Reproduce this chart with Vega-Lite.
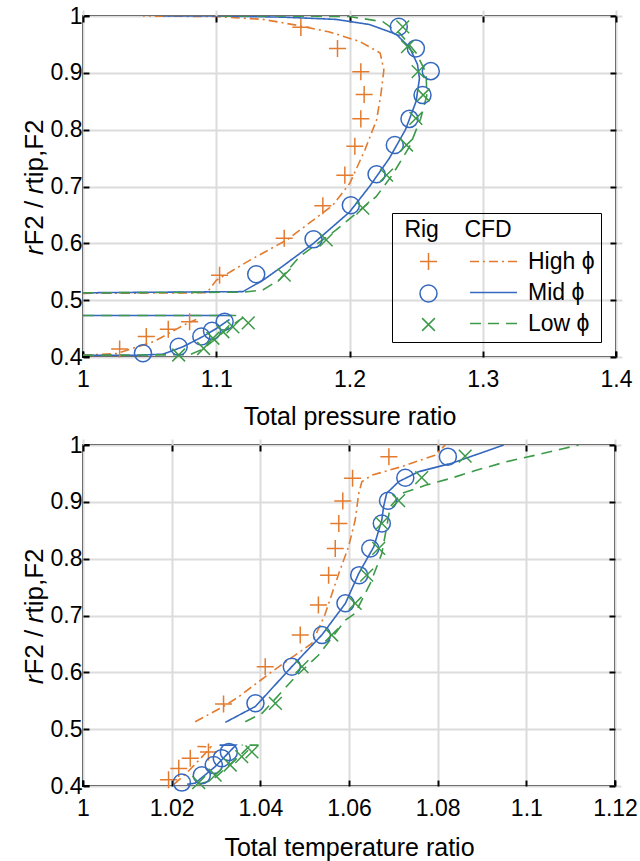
{
  "$schema": "https://vega.github.io/schema/vega-lite/v6.json",
  "padding": {"left": 20, "top": 4, "right": 8, "bottom": 5},
  "background": "white",
  "bounds": "flush",
  "spacing": 88,
  "config": {
    "font": "Liberation Sans",
    "view": {"stroke": "black", "strokeWidth": 2},
    "axis": {
      "grid": true, "gridColor": "#dcdcdc", "gridWidth": 2,
      "domain": false, "labelFlush": false,
      "tickColor": "black", "tickWidth": 2, "tickSize": 6, "offset": -6,
      "labelFont": "Liberation Sans", "labelFontSize": 23, "labelColor": "black",
      "titleFont": "Liberation Sans", "titleFontSize": 25, "titleFontWeight": "normal", "titleColor": "black"
    },
    "legend": {
      "labelFont": "Liberation Sans", "labelFontSize": 23, "labelColor": "black",
      "titleFont": "Liberation Sans", "titleFontSize": 23, "titleFontWeight": "normal", "titleColor": "black",
      "symbolStrokeWidth": 1.5
    }
  },
  "datasets": {
    "pts": [
      {"p": "P", "rig": "High", "x": 1.0275, "y": 0.414},
      {"p": "P", "rig": "High", "x": 1.0475, "y": 0.436},
      {"p": "P", "rig": "High", "x": 1.064, "y": 0.449},
      {"p": "P", "rig": "High", "x": 1.080, "y": 0.462},
      {"p": "P", "rig": "High", "x": 1.1025, "y": 0.544},
      {"p": "P", "rig": "High", "x": 1.151, "y": 0.609},
      {"p": "P", "rig": "High", "x": 1.180, "y": 0.666},
      {"p": "P", "rig": "High", "x": 1.1965, "y": 0.720},
      {"p": "P", "rig": "High", "x": 1.204, "y": 0.771},
      {"p": "P", "rig": "High", "x": 1.2085, "y": 0.819},
      {"p": "P", "rig": "High", "x": 1.211, "y": 0.862},
      {"p": "P", "rig": "High", "x": 1.2085, "y": 0.902},
      {"p": "P", "rig": "High", "x": 1.191, "y": 0.943},
      {"p": "P", "rig": "High", "x": 1.1635, "y": 0.980},
      {"p": "P", "rig": "Mid", "x": 1.045, "y": 0.4065},
      {"p": "P", "rig": "Mid", "x": 1.0718, "y": 0.418},
      {"p": "P", "rig": "Mid", "x": 1.0888, "y": 0.436},
      {"p": "P", "rig": "Mid", "x": 1.0968, "y": 0.446},
      {"p": "P", "rig": "Mid", "x": 1.1063, "y": 0.462},
      {"p": "P", "rig": "Mid", "x": 1.130, "y": 0.5455},
      {"p": "P", "rig": "Mid", "x": 1.173, "y": 0.607},
      {"p": "P", "rig": "Mid", "x": 1.201, "y": 0.667},
      {"p": "P", "rig": "Mid", "x": 1.2203, "y": 0.7215},
      {"p": "P", "rig": "Mid", "x": 1.234, "y": 0.773},
      {"p": "P", "rig": "Mid", "x": 1.245, "y": 0.819},
      {"p": "P", "rig": "Mid", "x": 1.2548, "y": 0.861},
      {"p": "P", "rig": "Mid", "x": 1.261, "y": 0.903},
      {"p": "P", "rig": "Mid", "x": 1.2498, "y": 0.943},
      {"p": "P", "rig": "Mid", "x": 1.237, "y": 0.981},
      {"p": "P", "rig": "Low", "x": 1.0718, "y": 0.4035},
      {"p": "P", "rig": "Low", "x": 1.0905, "y": 0.415},
      {"p": "P", "rig": "Low", "x": 1.0975, "y": 0.433},
      {"p": "P", "rig": "Low", "x": 1.105, "y": 0.4445},
      {"p": "P", "rig": "Low", "x": 1.1125, "y": 0.453},
      {"p": "P", "rig": "Low", "x": 1.124, "y": 0.460},
      {"p": "P", "rig": "Low", "x": 1.151, "y": 0.544},
      {"p": "P", "rig": "Low", "x": 1.1825, "y": 0.606},
      {"p": "P", "rig": "Low", "x": 1.21, "y": 0.662},
      {"p": "P", "rig": "Low", "x": 1.2278, "y": 0.720},
      {"p": "P", "rig": "Low", "x": 1.2428, "y": 0.773},
      {"p": "P", "rig": "Low", "x": 1.2498, "y": 0.82},
      {"p": "P", "rig": "Low", "x": 1.2553, "y": 0.861},
      {"p": "P", "rig": "Low", "x": 1.2515, "y": 0.902},
      {"p": "P", "rig": "Low", "x": 1.2435, "y": 0.946},
      {"p": "P", "rig": "Low", "x": 1.240, "y": 0.981},
      {"p": "T", "rig": "High", "x": 1.0193, "y": 0.411},
      {"p": "T", "rig": "High", "x": 1.0216, "y": 0.431},
      {"p": "T", "rig": "High", "x": 1.0242, "y": 0.449},
      {"p": "T", "rig": "High", "x": 1.0283, "y": 0.460},
      {"p": "T", "rig": "High", "x": 1.0317, "y": 0.5443},
      {"p": "T", "rig": "High", "x": 1.0411, "y": 0.610},
      {"p": "T", "rig": "High", "x": 1.049, "y": 0.6657},
      {"p": "T", "rig": "High", "x": 1.0531, "y": 0.7185},
      {"p": "T", "rig": "High", "x": 1.0554, "y": 0.771},
      {"p": "T", "rig": "High", "x": 1.0569, "y": 0.818},
      {"p": "T", "rig": "High", "x": 1.0577, "y": 0.862},
      {"p": "T", "rig": "High", "x": 1.0586, "y": 0.9015},
      {"p": "T", "rig": "High", "x": 1.0608, "y": 0.9414},
      {"p": "T", "rig": "High", "x": 1.069, "y": 0.9795},
      {"p": "T", "rig": "Mid", "x": 1.0223, "y": 0.406},
      {"p": "T", "rig": "Mid", "x": 1.0268, "y": 0.419},
      {"p": "T", "rig": "Mid", "x": 1.0295, "y": 0.437},
      {"p": "T", "rig": "Mid", "x": 1.0313, "y": 0.449},
      {"p": "T", "rig": "Mid", "x": 1.0329, "y": 0.460},
      {"p": "T", "rig": "Mid", "x": 1.0389, "y": 0.5455},
      {"p": "T", "rig": "Mid", "x": 1.0471, "y": 0.61},
      {"p": "T", "rig": "Mid", "x": 1.0539, "y": 0.6657},
      {"p": "T", "rig": "Mid", "x": 1.0592, "y": 0.7215},
      {"p": "T", "rig": "Mid", "x": 1.0623, "y": 0.771},
      {"p": "T", "rig": "Mid", "x": 1.0648, "y": 0.818},
      {"p": "T", "rig": "Mid", "x": 1.0674, "y": 0.862},
      {"p": "T", "rig": "Mid", "x": 1.0688, "y": 0.902},
      {"p": "T", "rig": "Mid", "x": 1.0727, "y": 0.9425},
      {"p": "T", "rig": "Mid", "x": 1.0823, "y": 0.9795},
      {"p": "T", "rig": "Low", "x": 1.0261, "y": 0.406},
      {"p": "T", "rig": "Low", "x": 1.0298, "y": 0.419},
      {"p": "T", "rig": "Low", "x": 1.0332, "y": 0.437},
      {"p": "T", "rig": "Low", "x": 1.0358, "y": 0.4516},
      {"p": "T", "rig": "Low", "x": 1.0381, "y": 0.460},
      {"p": "T", "rig": "Low", "x": 1.0434, "y": 0.5455},
      {"p": "T", "rig": "Low", "x": 1.0494, "y": 0.61},
      {"p": "T", "rig": "Low", "x": 1.0561, "y": 0.6657},
      {"p": "T", "rig": "Low", "x": 1.0614, "y": 0.7215},
      {"p": "T", "rig": "Low", "x": 1.064, "y": 0.771},
      {"p": "T", "rig": "Low", "x": 1.0667, "y": 0.818},
      {"p": "T", "rig": "Low", "x": 1.0674, "y": 0.862},
      {"p": "T", "rig": "Low", "x": 1.0712, "y": 0.902},
      {"p": "T", "rig": "Low", "x": 1.0764, "y": 0.9425},
      {"p": "T", "rig": "Low", "x": 1.0862, "y": 0.9805}
    ],
    "lns": [
      {"p": "P", "cfd": "High ϕ", "s": "a", "o": 1, "x": 1.0, "y": 0.403},
      {"p": "P", "cfd": "High ϕ", "s": "a", "o": 2, "x": 1.025, "y": 0.406},
      {"p": "P", "cfd": "High ϕ", "s": "a", "o": 3, "x": 1.053, "y": 0.427},
      {"p": "P", "cfd": "High ϕ", "s": "a", "o": 4, "x": 1.078, "y": 0.459},
      {"p": "P", "cfd": "High ϕ", "s": "a", "o": 5, "x": 1.085, "y": 0.466},
      {"p": "P", "cfd": "High ϕ", "s": "b", "o": 1, "x": 1.0, "y": 0.512},
      {"p": "P", "cfd": "High ϕ", "s": "b", "o": 2, "x": 1.093, "y": 0.513},
      {"p": "P", "cfd": "High ϕ", "s": "b", "o": 3, "x": 1.1, "y": 0.535},
      {"p": "P", "cfd": "High ϕ", "s": "b", "o": 4, "x": 1.125, "y": 0.57},
      {"p": "P", "cfd": "High ϕ", "s": "b", "o": 5, "x": 1.153, "y": 0.606},
      {"p": "P", "cfd": "High ϕ", "s": "b", "o": 6, "x": 1.1875, "y": 0.667},
      {"p": "P", "cfd": "High ϕ", "s": "b", "o": 7, "x": 1.2003, "y": 0.706},
      {"p": "P", "cfd": "High ϕ", "s": "b", "o": 8, "x": 1.2115, "y": 0.764},
      {"p": "P", "cfd": "High ϕ", "s": "b", "o": 9, "x": 1.2203, "y": 0.817},
      {"p": "P", "cfd": "High ϕ", "s": "b", "o": 10, "x": 1.2235, "y": 0.861},
      {"p": "P", "cfd": "High ϕ", "s": "b", "o": 11, "x": 1.2258, "y": 0.905},
      {"p": "P", "cfd": "High ϕ", "s": "b", "o": 12, "x": 1.223, "y": 0.935},
      {"p": "P", "cfd": "High ϕ", "s": "b", "o": 13, "x": 1.2078, "y": 0.955},
      {"p": "P", "cfd": "High ϕ", "s": "b", "o": 14, "x": 1.185, "y": 0.972},
      {"p": "P", "cfd": "High ϕ", "s": "b", "o": 15, "x": 1.16, "y": 0.984},
      {"p": "P", "cfd": "High ϕ", "s": "b", "o": 16, "x": 1.135, "y": 0.994},
      {"p": "P", "cfd": "High ϕ", "s": "b", "o": 17, "x": 1.1, "y": 0.999},
      {"p": "P", "cfd": "High ϕ", "s": "b", "o": 18, "x": 1.045, "y": 1.0},
      {"p": "P", "cfd": "Mid ϕ", "s": "a", "o": 1, "x": 1.0, "y": 0.403},
      {"p": "P", "cfd": "Mid ϕ", "s": "a", "o": 2, "x": 1.04, "y": 0.403},
      {"p": "P", "cfd": "Mid ϕ", "s": "a", "o": 3, "x": 1.06, "y": 0.405},
      {"p": "P", "cfd": "Mid ϕ", "s": "a", "o": 4, "x": 1.075, "y": 0.418},
      {"p": "P", "cfd": "Mid ϕ", "s": "a", "o": 5, "x": 1.09, "y": 0.436},
      {"p": "P", "cfd": "Mid ϕ", "s": "a", "o": 6, "x": 1.1, "y": 0.45},
      {"p": "P", "cfd": "Mid ϕ", "s": "a", "o": 7, "x": 1.11, "y": 0.466},
      {"p": "P", "cfd": "Mid ϕ", "s": "b", "o": 1, "x": 1.0, "y": 0.473},
      {"p": "P", "cfd": "Mid ϕ", "s": "b", "o": 2, "x": 1.112, "y": 0.473},
      {"p": "P", "cfd": "Mid ϕ", "s": "c", "o": 1, "x": 1.0, "y": 0.513},
      {"p": "P", "cfd": "Mid ϕ", "s": "c", "o": 2, "x": 1.12, "y": 0.515},
      {"p": "P", "cfd": "Mid ϕ", "s": "c", "o": 3, "x": 1.135, "y": 0.535},
      {"p": "P", "cfd": "Mid ϕ", "s": "c", "o": 4, "x": 1.15, "y": 0.56},
      {"p": "P", "cfd": "Mid ϕ", "s": "c", "o": 5, "x": 1.173, "y": 0.6},
      {"p": "P", "cfd": "Mid ϕ", "s": "c", "o": 6, "x": 1.2, "y": 0.655},
      {"p": "P", "cfd": "Mid ϕ", "s": "c", "o": 7, "x": 1.215, "y": 0.7},
      {"p": "P", "cfd": "Mid ϕ", "s": "c", "o": 8, "x": 1.23, "y": 0.75},
      {"p": "P", "cfd": "Mid ϕ", "s": "c", "o": 9, "x": 1.242, "y": 0.8},
      {"p": "P", "cfd": "Mid ϕ", "s": "c", "o": 10, "x": 1.25, "y": 0.85},
      {"p": "P", "cfd": "Mid ϕ", "s": "c", "o": 11, "x": 1.2525, "y": 0.89},
      {"p": "P", "cfd": "Mid ϕ", "s": "c", "o": 12, "x": 1.251, "y": 0.915},
      {"p": "P", "cfd": "Mid ϕ", "s": "c", "o": 13, "x": 1.245, "y": 0.945},
      {"p": "P", "cfd": "Mid ϕ", "s": "c", "o": 14, "x": 1.235, "y": 0.968},
      {"p": "P", "cfd": "Mid ϕ", "s": "c", "o": 15, "x": 1.215, "y": 0.985},
      {"p": "P", "cfd": "Mid ϕ", "s": "c", "o": 16, "x": 1.19, "y": 0.994},
      {"p": "P", "cfd": "Mid ϕ", "s": "c", "o": 17, "x": 1.15, "y": 0.998},
      {"p": "P", "cfd": "Mid ϕ", "s": "c", "o": 18, "x": 1.1, "y": 1.0},
      {"p": "P", "cfd": "Mid ϕ", "s": "c", "o": 19, "x": 1.06, "y": 1.0},
      {"p": "P", "cfd": "Low ϕ", "s": "a", "o": 1, "x": 1.0, "y": 0.403},
      {"p": "P", "cfd": "Low ϕ", "s": "a", "o": 2, "x": 1.08, "y": 0.404},
      {"p": "P", "cfd": "Low ϕ", "s": "a", "o": 3, "x": 1.09, "y": 0.414},
      {"p": "P", "cfd": "Low ϕ", "s": "a", "o": 4, "x": 1.1, "y": 0.433},
      {"p": "P", "cfd": "Low ϕ", "s": "a", "o": 5, "x": 1.11, "y": 0.453},
      {"p": "P", "cfd": "Low ϕ", "s": "a", "o": 6, "x": 1.12, "y": 0.469},
      {"p": "P", "cfd": "Low ϕ", "s": "b", "o": 1, "x": 1.0, "y": 0.473},
      {"p": "P", "cfd": "Low ϕ", "s": "b", "o": 2, "x": 1.115, "y": 0.473},
      {"p": "P", "cfd": "Low ϕ", "s": "c", "o": 1, "x": 1.0, "y": 0.513},
      {"p": "P", "cfd": "Low ϕ", "s": "c", "o": 2, "x": 1.12, "y": 0.514},
      {"p": "P", "cfd": "Low ϕ", "s": "c", "o": 3, "x": 1.135, "y": 0.518},
      {"p": "P", "cfd": "Low ϕ", "s": "c", "o": 4, "x": 1.1475, "y": 0.536},
      {"p": "P", "cfd": "Low ϕ", "s": "c", "o": 5, "x": 1.1625, "y": 0.5765},
      {"p": "P", "cfd": "Low ϕ", "s": "c", "o": 6, "x": 1.19, "y": 0.6235},
      {"p": "P", "cfd": "Low ϕ", "s": "c", "o": 7, "x": 1.22, "y": 0.682},
      {"p": "P", "cfd": "Low ϕ", "s": "c", "o": 8, "x": 1.232, "y": 0.72},
      {"p": "P", "cfd": "Low ϕ", "s": "c", "o": 9, "x": 1.245, "y": 0.77},
      {"p": "P", "cfd": "Low ϕ", "s": "c", "o": 10, "x": 1.2535, "y": 0.82},
      {"p": "P", "cfd": "Low ϕ", "s": "c", "o": 11, "x": 1.258, "y": 0.86},
      {"p": "P", "cfd": "Low ϕ", "s": "c", "o": 12, "x": 1.2575, "y": 0.9},
      {"p": "P", "cfd": "Low ϕ", "s": "c", "o": 13, "x": 1.25, "y": 0.935},
      {"p": "P", "cfd": "Low ϕ", "s": "c", "o": 14, "x": 1.238, "y": 0.969},
      {"p": "P", "cfd": "Low ϕ", "s": "c", "o": 15, "x": 1.225, "y": 0.99},
      {"p": "P", "cfd": "Low ϕ", "s": "c", "o": 16, "x": 1.2, "y": 0.999},
      {"p": "P", "cfd": "Low ϕ", "s": "c", "o": 17, "x": 1.15, "y": 1.0},
      {"p": "P", "cfd": "Low ϕ", "s": "c", "o": 18, "x": 1.1, "y": 1.0},
      {"p": "T", "cfd": "High ϕ", "s": "a", "o": 1, "x": 1.0205, "y": 0.403},
      {"p": "T", "cfd": "High ϕ", "s": "a", "o": 2, "x": 1.023, "y": 0.42},
      {"p": "T", "cfd": "High ϕ", "s": "a", "o": 3, "x": 1.0255, "y": 0.44},
      {"p": "T", "cfd": "High ϕ", "s": "a", "o": 4, "x": 1.0285, "y": 0.465},
      {"p": "T", "cfd": "High ϕ", "s": "a", "o": 5, "x": 1.0288, "y": 0.469},
      {"p": "T", "cfd": "High ϕ", "s": "a", "o": 6, "x": 1.0253, "y": 0.4695},
      {"p": "T", "cfd": "High ϕ", "s": "b", "o": 1, "x": 1.0253, "y": 0.513},
      {"p": "T", "cfd": "High ϕ", "s": "b", "o": 2, "x": 1.0317, "y": 0.54},
      {"p": "T", "cfd": "High ϕ", "s": "b", "o": 3, "x": 1.0351, "y": 0.557},
      {"p": "T", "cfd": "High ϕ", "s": "b", "o": 4, "x": 1.0426, "y": 0.601},
      {"p": "T", "cfd": "High ϕ", "s": "b", "o": 5, "x": 1.0516, "y": 0.651},
      {"p": "T", "cfd": "High ϕ", "s": "b", "o": 6, "x": 1.0545, "y": 0.70},
      {"p": "T", "cfd": "High ϕ", "s": "b", "o": 7, "x": 1.0577, "y": 0.774},
      {"p": "T", "cfd": "High ϕ", "s": "b", "o": 8, "x": 1.0599, "y": 0.821},
      {"p": "T", "cfd": "High ϕ", "s": "b", "o": 9, "x": 1.0614, "y": 0.868},
      {"p": "T", "cfd": "High ϕ", "s": "b", "o": 10, "x": 1.0622, "y": 0.915},
      {"p": "T", "cfd": "High ϕ", "s": "b", "o": 11, "x": 1.0629, "y": 0.9355},
      {"p": "T", "cfd": "High ϕ", "s": "b", "o": 12, "x": 1.0652, "y": 0.947},
      {"p": "T", "cfd": "High ϕ", "s": "b", "o": 13, "x": 1.0719, "y": 0.962},
      {"p": "T", "cfd": "High ϕ", "s": "b", "o": 14, "x": 1.0794, "y": 0.982},
      {"p": "T", "cfd": "High ϕ", "s": "b", "o": 15, "x": 1.0817, "y": 1.0},
      {"p": "T", "cfd": "Mid ϕ", "s": "a", "o": 1, "x": 1.0235, "y": 0.403},
      {"p": "T", "cfd": "Mid ϕ", "s": "a", "o": 2, "x": 1.0253, "y": 0.405},
      {"p": "T", "cfd": "Mid ϕ", "s": "a", "o": 3, "x": 1.0298, "y": 0.434},
      {"p": "T", "cfd": "Mid ϕ", "s": "a", "o": 4, "x": 1.034, "y": 0.468},
      {"p": "T", "cfd": "Mid ϕ", "s": "a", "o": 5, "x": 1.0345, "y": 0.472},
      {"p": "T", "cfd": "Mid ϕ", "s": "a", "o": 6, "x": 1.0308, "y": 0.472},
      {"p": "T", "cfd": "Mid ϕ", "s": "b", "o": 1, "x": 1.0321, "y": 0.512},
      {"p": "T", "cfd": "Mid ϕ", "s": "b", "o": 2, "x": 1.0389, "y": 0.54},
      {"p": "T", "cfd": "Mid ϕ", "s": "b", "o": 3, "x": 1.0471, "y": 0.61},
      {"p": "T", "cfd": "Mid ϕ", "s": "b", "o": 4, "x": 1.0539, "y": 0.666},
      {"p": "T", "cfd": "Mid ϕ", "s": "b", "o": 5, "x": 1.0592, "y": 0.7215},
      {"p": "T", "cfd": "Mid ϕ", "s": "b", "o": 6, "x": 1.0622, "y": 0.774},
      {"p": "T", "cfd": "Mid ϕ", "s": "b", "o": 7, "x": 1.0656, "y": 0.821},
      {"p": "T", "cfd": "Mid ϕ", "s": "b", "o": 8, "x": 1.0674, "y": 0.868},
      {"p": "T", "cfd": "Mid ϕ", "s": "b", "o": 9, "x": 1.0678, "y": 0.8915},
      {"p": "T", "cfd": "Mid ϕ", "s": "b", "o": 10, "x": 1.0685, "y": 0.915},
      {"p": "T", "cfd": "Mid ϕ", "s": "b", "o": 11, "x": 1.0712, "y": 0.9355},
      {"p": "T", "cfd": "Mid ϕ", "s": "b", "o": 12, "x": 1.0757, "y": 0.953},
      {"p": "T", "cfd": "Mid ϕ", "s": "b", "o": 13, "x": 1.0832, "y": 0.968},
      {"p": "T", "cfd": "Mid ϕ", "s": "b", "o": 14, "x": 1.0949, "y": 1.0},
      {"p": "T", "cfd": "Low ϕ", "s": "a", "o": 1, "x": 1.026, "y": 0.403},
      {"p": "T", "cfd": "Low ϕ", "s": "a", "o": 2, "x": 1.0291, "y": 0.41},
      {"p": "T", "cfd": "Low ϕ", "s": "a", "o": 3, "x": 1.0351, "y": 0.4516},
      {"p": "T", "cfd": "Low ϕ", "s": "a", "o": 4, "x": 1.0374, "y": 0.469},
      {"p": "T", "cfd": "Low ϕ", "s": "a", "o": 5, "x": 1.0396, "y": 0.472},
      {"p": "T", "cfd": "Low ϕ", "s": "a", "o": 6, "x": 1.0358, "y": 0.472},
      {"p": "T", "cfd": "Low ϕ", "s": "b", "o": 1, "x": 1.0366, "y": 0.513},
      {"p": "T", "cfd": "Low ϕ", "s": "b", "o": 2, "x": 1.0404, "y": 0.528},
      {"p": "T", "cfd": "Low ϕ", "s": "b", "o": 3, "x": 1.0479, "y": 0.592},
      {"p": "T", "cfd": "Low ϕ", "s": "b", "o": 4, "x": 1.0531, "y": 0.63},
      {"p": "T", "cfd": "Low ϕ", "s": "b", "o": 5, "x": 1.0592, "y": 0.692},
      {"p": "T", "cfd": "Low ϕ", "s": "b", "o": 6, "x": 1.0614, "y": 0.704},
      {"p": "T", "cfd": "Low ϕ", "s": "b", "o": 7, "x": 1.0648, "y": 0.7565},
      {"p": "T", "cfd": "Low ϕ", "s": "b", "o": 8, "x": 1.0674, "y": 0.809},
      {"p": "T", "cfd": "Low ϕ", "s": "b", "o": 9, "x": 1.0685, "y": 0.856},
      {"p": "T", "cfd": "Low ϕ", "s": "b", "o": 10, "x": 1.0693, "y": 0.8915},
      {"p": "T", "cfd": "Low ϕ", "s": "b", "o": 11, "x": 1.0719, "y": 0.915},
      {"p": "T", "cfd": "Low ϕ", "s": "b", "o": 12, "x": 1.0772, "y": 0.929},
      {"p": "T", "cfd": "Low ϕ", "s": "b", "o": 13, "x": 1.083, "y": 0.9415},
      {"p": "T", "cfd": "Low ϕ", "s": "b", "o": 14, "x": 1.0885, "y": 0.955},
      {"p": "T", "cfd": "Low ϕ", "s": "b", "o": 15, "x": 1.0952, "y": 0.97},
      {"p": "T", "cfd": "Low ϕ", "s": "b", "o": 16, "x": 1.102, "y": 0.982},
      {"p": "T", "cfd": "Low ϕ", "s": "b", "o": 17, "x": 1.108, "y": 0.993},
      {"p": "T", "cfd": "Low ϕ", "s": "b", "o": 18, "x": 1.1118, "y": 1.0}
    ]
  },
  "vconcat": [
    {
      "width": 533, "height": 341,
      "resolve": {"axis": {"x": "independent", "y": "independent"}},
      "layer": [
        {
          "data": {"name": "lns"},
          "transform": [{"filter": "datum.p === 'P'"}],
          "mark": {"type": "line", "strokeWidth": 1.6, "clip": true},
          "encoding": {
            "x": {"field": "x", "type": "quantitative", "scale": {"domain": [1, 1.4], "nice": false, "zero": false},
                  "axis": {"title": "Total pressure ratio", "values": [1, 1.1, 1.2, 1.3, 1.4], "format": "~g",
                           "labelFontSize": 23, "titleFontSize": 25, "labelPadding": 11, "titlePadding": 13}},
            "y": {"field": "y", "type": "quantitative", "scale": {"domain": [0.4, 1], "nice": false, "zero": false},
                  "axis": {"title": "𝑟F2 / 𝑟tip,F2", "values": [0.4, 0.5, 0.6, 0.7, 0.8, 0.9, 1], "format": "~g",
                           "labelFontSize": 23, "titleFontSize": 26, "labelPadding": 1, "titlePadding": 3}},
            "stroke": {"field": "cfd", "type": "nominal",
                       "scale": {"domain": ["High ϕ", "Mid ϕ", "Low ϕ"], "range": ["#e37b2f", "#3468be", "#3c9a48"]},
                       "legend": {"title": "\u200b\u00a0Rig\u00a0\u00a0\u00a0\u00a0CFD", "orient": "none", "legendX": 309, "legendY": 197,
                                  "symbolType": "M-3,0L3,0", "symbolSize": 245, "strokeColor": "black", "padding": 6,
                                  "symbolOffset": 84, "labelOffset": 23, "rowPadding": 7, "titlePadding": 8,
                                  "labelFontSize": 23, "titleFontSize": 23}},
            "strokeDash": {"field": "cfd", "type": "nominal",
                           "scale": {"domain": ["High ϕ", "Mid ϕ", "Low ϕ"], "range": [[9, 4, 2, 4], [1, 0], [11, 7]]}},
            "detail": {"field": "s"},
            "order": {"field": "o", "type": "quantitative"}
          }
        },
        {
          "data": {"name": "pts"},
          "transform": [{"filter": "datum.p === 'P'"}],
          "mark": {"type": "point", "filled": false, "strokeWidth": 1.5, "size": 290, "opacity": 1},
          "encoding": {
            "x": {"field": "x", "type": "quantitative", "scale": {"domain": [1, 1.4], "nice": false, "zero": false},
                  "axis": {"orient": "top", "labels": false, "title": null, "grid": false, "values": [1, 1.1, 1.2, 1.3, 1.4]}},
            "y": {"field": "y", "type": "quantitative", "scale": {"domain": [0.4, 1], "nice": false, "zero": false},
                  "axis": {"orient": "right", "labels": false, "title": null, "grid": false, "values": [0.4, 0.5, 0.6, 0.7, 0.8, 0.9, 1]}},
            "color": {"field": "rig", "type": "nominal",
                      "scale": {"domain": ["High", "Mid", "Low"], "range": ["#e37b2f", "#3468be", "#3c9a48"]},
                      "legend": {"title": null, "orient": "none", "legendX": 334, "legendY": 234, "labelExpr": "''",
                                 "padding": 0, "rowPadding": 7, "symbolSize": 290, "labelFontSize": 23}},
            "shape": {"field": "rig", "type": "nominal",
                      "scale": {"domain": ["High", "Mid", "Low"], "range": ["M-1,0L1,0M0,-1L0,1", "circle", "M-0.75,-0.75L0.75,0.75M-0.75,0.75L0.75,-0.75"]}}
          }
        }
      ]
    },
    {
      "width": 532, "height": 341,
      "resolve": {"axis": {"x": "independent", "y": "independent"}},
      "layer": [
        {
          "data": {"name": "lns"},
          "transform": [{"filter": "datum.p === 'T'"}],
          "mark": {"type": "line", "strokeWidth": 1.6, "clip": true},
          "encoding": {
            "x": {"field": "x", "type": "quantitative", "scale": {"domain": [1, 1.12], "nice": false, "zero": false},
                  "axis": {"title": "Total temperature ratio", "values": [1, 1.02, 1.04, 1.06, 1.08, 1.1, 1.12], "format": "~g",
                           "labelFontSize": 23, "titleFontSize": 25, "labelPadding": 11, "titlePadding": 15}},
            "y": {"field": "y", "type": "quantitative", "scale": {"domain": [0.4, 1], "nice": false, "zero": false},
                  "axis": {"title": "𝑟F2 / 𝑟tip,F2", "values": [0.4, 0.5, 0.6, 0.7, 0.8, 0.9, 1], "format": "~g",
                           "labelFontSize": 23, "titleFontSize": 26, "labelPadding": 1, "titlePadding": 3}},
            "stroke": {"field": "cfd", "type": "nominal"},
            "strokeDash": {"field": "cfd", "type": "nominal"},
            "detail": {"field": "s"},
            "order": {"field": "o", "type": "quantitative"}
          }
        },
        {
          "data": {"name": "pts"},
          "transform": [{"filter": "datum.p === 'T'"}],
          "mark": {"type": "point", "filled": false, "strokeWidth": 1.5, "size": 290, "opacity": 1},
          "encoding": {
            "x": {"field": "x", "type": "quantitative", "scale": {"domain": [1, 1.12], "nice": false, "zero": false},
                  "axis": {"orient": "top", "labels": false, "title": null, "grid": false, "values": [1, 1.02, 1.04, 1.06, 1.08, 1.1, 1.12]}},
            "y": {"field": "y", "type": "quantitative", "scale": {"domain": [0.4, 1], "nice": false, "zero": false},
                  "axis": {"orient": "right", "labels": false, "title": null, "grid": false, "values": [0.4, 0.5, 0.6, 0.7, 0.8, 0.9, 1]}},
            "color": {"field": "rig", "type": "nominal"},
            "shape": {"field": "rig", "type": "nominal"}
          }
        }
      ]
    }
  ]
}
